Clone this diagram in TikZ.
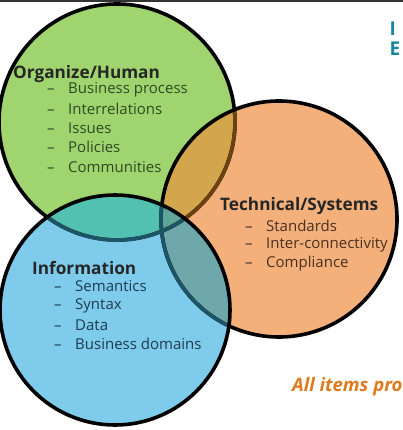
\documentclass[tikz,border=0pt]{standalone}
\usepackage{fontspec}
\setmainfont{Open Sans}
\definecolor{cg}{HTML}{A0D46F}
\definecolor{co}{HTML}{F3B07B}
\definecolor{cb}{HTML}{7ECBEC}
\definecolor{cgo}{HTML}{D3A64E}
\definecolor{cgb}{HTML}{52C1B2}
\definecolor{cob}{HTML}{6EA8AB}
\definecolor{cgob}{HTML}{5DA699}
\definecolor{brownline}{HTML}{6B4210}
\definecolor{tealline}{HTML}{1C5566}
\definecolor{tgreen}{HTML}{2E4A22}
\definecolor{torange}{HTML}{4A3020}
\definecolor{tblue}{HTML}{1E3C4E}
\definecolor{tteal}{HTML}{17869A}
\definecolor{torg}{HTML}{E07A1C}
\tikzset{
  hdr/.style={anchor=west, inner sep=0pt, font=\fontsize{17.2}{20}\selectfont\bfseries},
  itm/.style={anchor=west, inner sep=0pt, font=\fontsize{15}{18}\selectfont},
  rim/.style={line width=3.6pt}
}
\newcommand{\dashitem}[1]{\makebox[21pt][l]{–}#1}
\begin{document}
\begin{tikzpicture}[x=1pt,y=-1pt]
\useasboundingbox (0,0) rectangle (403,430);
\fill[white] (0,0) rectangle (403,430);
\draw[line width=2pt, black!80] (0,1) -- (403,1);
% fills
\fill[cg] (117,122) circle[radius=118pt];
\fill[co] (279,219) circle[radius=118pt];
\fill[cb] (115,310) circle[radius=115pt];
\begin{scope}
  \clip (279,219) circle[radius=118pt];
  \fill[cgo] (117,122) circle[radius=118pt];
\end{scope}
\begin{scope}
  \clip (115,310) circle[radius=115pt];
  \fill[cgb] (117,122) circle[radius=118pt];
\end{scope}
\begin{scope}
  \clip (115,310) circle[radius=115pt];
  \fill[cob] (279,219) circle[radius=118pt];
\end{scope}
\begin{scope}
  \clip (115,310) circle[radius=115pt];
  \clip (279,219) circle[radius=118pt];
  \fill[cgob] (117,122) circle[radius=118pt];
\end{scope}
% rims
\draw[rim, black] (117,122) circle[radius=118pt];
\begin{scope}
  \clip (279,219) circle[radius=118pt];
  \draw[rim, brownline] (117,122) circle[radius=118pt];
\end{scope}
\draw[rim, black] (279,219) circle[radius=118pt];
\begin{scope}
  \clip (115,310) circle[radius=115pt];
  \draw[rim, tealline] (117,122) circle[radius=118pt];
  \draw[rim, tealline] (279,219) circle[radius=118pt];
\end{scope}
\draw[rim, black] (115,310) circle[radius=115pt];
% texts
\node[hdr, text=black!85] (org) at (13,74) {Organize/Human};
\node[itm, text=tgreen] (o1) at (47,90) {\dashitem{Business process}};
\node[itm, text=tgreen] (o2) at (47,109) {\dashitem{Interrelations}};
\node[itm, text=tgreen] (o3) at (47,128) {\dashitem{Issues}};
\node[itm, text=tgreen] (o4) at (47,147) {\dashitem{Policies}};
\node[itm, text=tgreen] (o5) at (47,167) {\dashitem{Communities}};
\node[hdr, text=black!85] (tec) at (220,206.5) {Technical/Systems};
\node[itm, text=torange] (t1) at (245,225.6) {\dashitem{Standards}};
\node[itm, text=torange] (t2) at (245,244.8) {\dashitem{Inter-connectivity}};
\node[itm, text=torange] (t3) at (245,263.5) {\dashitem{Compliance}};
\node[hdr, text=black!85] (inf) at (32,268) {Information};
\node[itm, text=tblue] (i1) at (54,286) {\dashitem{Semantics}};
\node[itm, text=tblue] (i2) at (54,306) {\dashitem{Syntax}};
\node[itm, text=tblue] (i3) at (54,325) {\dashitem{Data}};
\node[itm, text=tblue] (i4) at (54,344) {\dashitem{Business domains}};
\node[hdr, text=tteal, font=\fontsize{19}{22}\selectfont\bfseries] (ti) at (389.5,29) {I};
\node[hdr, text=tteal, font=\fontsize{19}{22}\selectfont\bfseries] (te) at (389.5,49) {E};
\node[hdr, text=torg, font=\fontsize{18.5}{21}\selectfont\bfseries\itshape] (all) at (292,387) {All items pro};
\end{tikzpicture}
\end{document}
